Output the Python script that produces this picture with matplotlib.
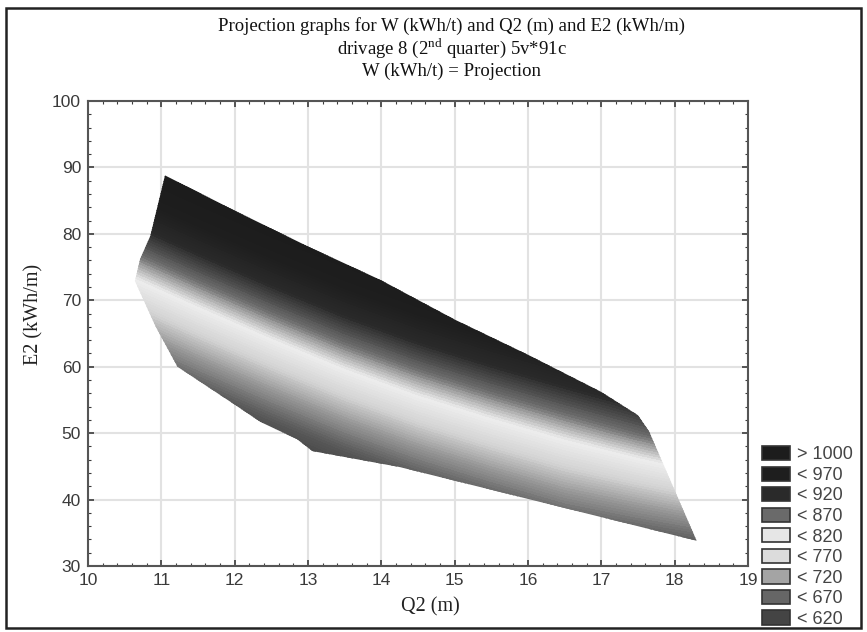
import numpy as np
import matplotlib.pyplot as plt
from matplotlib.colors import LinearSegmentedColormap, Normalize
from matplotlib.patches import Polygon, Patch, Rectangle
from matplotlib.ticker import MultipleLocator, AutoMinorLocator

plt.rcParams['font.family'] = ['Liberation Sans', 'DejaVu Sans']
plt.rcParams['mathtext.fontset'] = 'custom'
plt.rcParams['mathtext.rm'] = 'Liberation Serif'

# W (kWh/t): rows = E2, columns = Q2
q2_grid = [10.5, 11.5, 12.5, 13.5, 14.5, 15.5, 16.5, 17.5, 18.5]
e2_grid = [30, 40, 50, 60, 70, 80, 90]
w_grid = [
    [244, 306, 366, 423, 473, 516, 556, 580, 600],
    [369, 431, 491, 548, 598, 641, 681, 710, 740],
    [494, 556, 616, 673, 723, 766, 806, 844, 881],
    [619, 681, 741, 798, 848, 891, 931, 969, 1006],
    [744, 806, 866, 923, 973, 1016, 1056, 1094, 1131],
    [869, 931, 991, 1048, 1098, 1141, 1181, 1219, 1256],
    [994, 1056, 1116, 1173, 1223, 1266, 1306, 1344, 1381],
]

# outline of the projected region (Q2, E2)
edge_q2 = [11.05, 12.0, 13.0, 14.0, 15.0, 16.0, 17.0, 17.5, 17.65, 18.3,
           16.0, 14.25, 13.06, 12.85, 12.35, 12.0, 11.22, 10.92, 10.64, 10.71, 10.85]
edge_e2 = [88.8, 83.5, 78.1, 73.0, 67.1, 61.8, 56.2, 52.7, 50.3, 33.8,
           40.1, 44.9, 47.3, 49.1, 51.7, 54.3, 60.0, 66.1, 72.9, 76.2, 79.7]

# legend classes
leg_labels = ['> 1000', '< 970', '< 920', '< 870', '< 820', '< 770', '< 720', '< 670', '< 620']
leg_colors = ['#1c1c1c', '#1e1e1e', '#2a2a2a', '#6a6a6a', '#e6e6e6',
              '#dcdcdc', '#a4a4a4', '#666666', '#444444']

# grey scale used for the surface
w_anchor = [595, 645, 695, 745, 795, 845, 895, 945, 1000]
g_anchor = ['#404040', '#5a5a5a', '#949494', '#d4d4d4', '#eeeeee',
            '#6a6a6a', '#2a2a2a', '#1e1e1e', '#1c1c1c']
lo, hi = w_anchor[0], w_anchor[-1]
cmap = LinearSegmentedColormap.from_list(
    'wgrey', [((w - lo) / (hi - lo), c) for w, c in zip(w_anchor, g_anchor)])
cmap.set_under(g_anchor[0])
cmap.set_over(g_anchor[-1])

fig = plt.figure(figsize=(8.67, 6.32), dpi=100)
ax = fig.add_axes([0.1015, 0.1044, 0.7612, 0.7358])

cs = ax.contourf(q2_grid, e2_grid, np.array(w_grid), levels=np.arange(560, 1050, 5),
                 cmap=cmap, norm=Normalize(lo, hi), extend='both', zorder=2)
clip = Polygon(list(zip(edge_q2, edge_e2)), closed=True, transform=ax.transData,
               facecolor='none', edgecolor='none')
ax.add_patch(clip)
cs.set_clip_path(clip)

ax.set_xlim(10, 19)
ax.set_ylim(30, 100)
ax.xaxis.set_major_locator(MultipleLocator(1))
ax.yaxis.set_major_locator(MultipleLocator(10))
ax.xaxis.set_minor_locator(AutoMinorLocator(5))
ax.yaxis.set_minor_locator(AutoMinorLocator(5))
ax.grid(True, which='major', color='#e2e2e2', linewidth=1.5)
ax.set_axisbelow(True)
ax.tick_params(which='both', direction='in', top=True, right=True,
               colors='#3a3a3a', labelsize=12.5, pad=5)
ax.tick_params(which='major', length=4, width=1.2)
ax.tick_params(which='minor', length=2, width=0.8)
for s in ax.spines.values():
    s.set_color('#555555')
    s.set_linewidth(1.5)

fig.text(34 / 867, 1 - 314 / 632, 'E2 (kWh/m)', rotation=90, ha='center', va='center',
         family='Liberation Serif', fontsize=14.5, color='#222222')
fig.text(430 / 867, 1 - 607 / 632, 'Q2 (m)', ha='center', va='center',
         family='Liberation Serif', fontsize=14.5, color='#222222')

# title, three lines
tx = 452 / 867
title_font = dict(ha='center', va='center', family='Liberation Serif', fontsize=13.5,
                  color='#111111')
fig.text(tx, 1 - 26 / 632, 'Projection graphs for W (kWh/t) and Q2 (m) and E2 (kWh/m)', **title_font)
fig.text(tx, 1 - 48 / 632, r'drivage 8 (2$^{\mathrm{nd}}$ quarter) 5v*91c', **title_font)
fig.text(tx, 1 - 71 / 632, 'W (kWh/t) = Projection', **title_font)

handles = [Patch(facecolor=c, edgecolor='#333333', linewidth=1.2) for c in leg_colors]
fig.legend(handles, leg_labels, loc='upper left', bbox_to_anchor=(762 / 867, 1 - 446 / 632),
           frameon=False, fontsize=13, handlelength=1.55, handleheight=0.85,
           handletextpad=0.4, labelspacing=0.17, borderpad=0, borderaxespad=0,
           labelcolor='#444444')

fig.patches.append(Rectangle((6 / 867, 4 / 632), 855 / 867, 620 / 632, transform=fig.transFigure,
                             fill=False, edgecolor='#222222', linewidth=1.8))

fig.savefig('out.png', dpi=100)
